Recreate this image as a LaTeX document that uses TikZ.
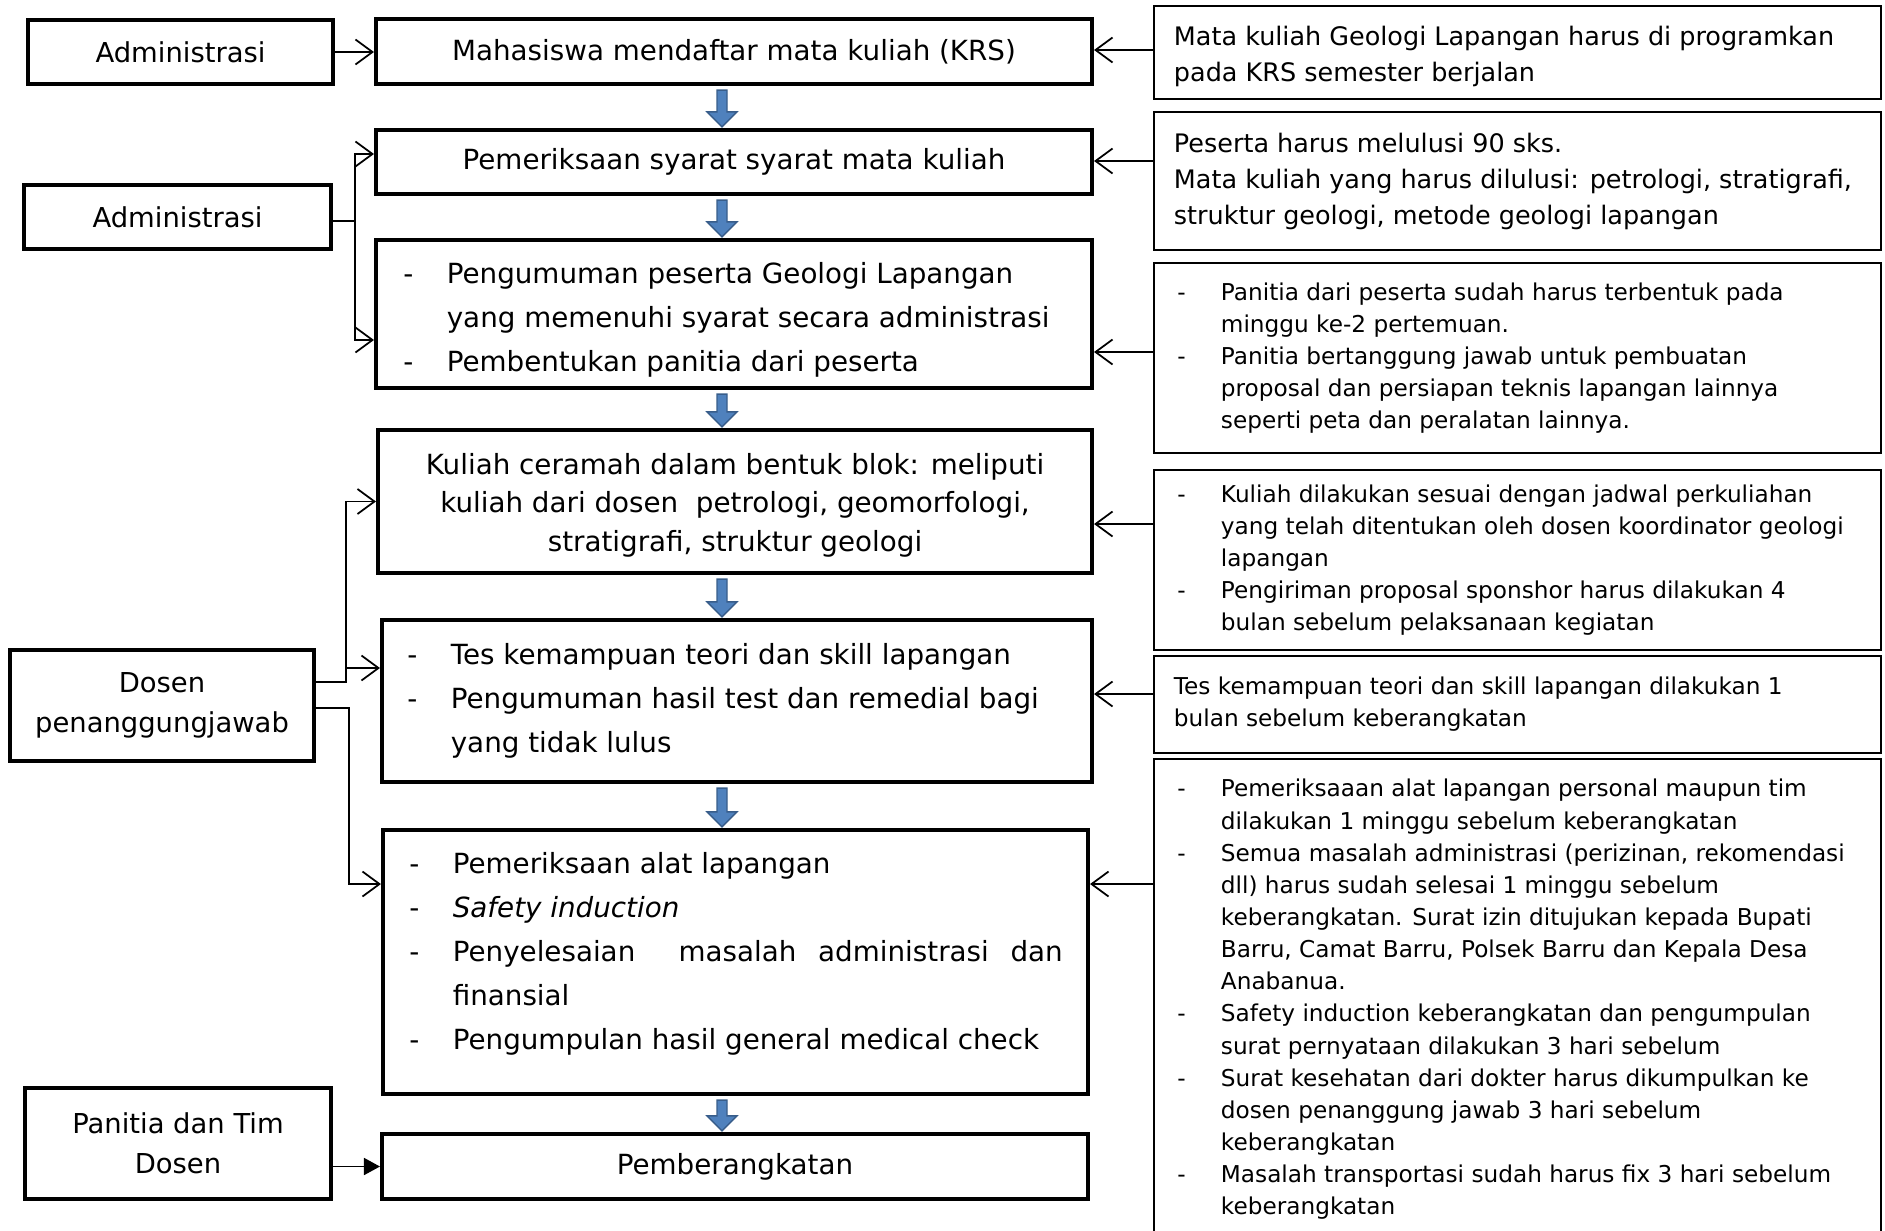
\documentclass[tikz,border=0pt]{standalone}
\usepackage{fontspec}
\setmainfont{DejaVu Sans}
\usetikzlibrary{positioning,arrows.meta,calc}
\definecolor{FlowBlue}{HTML}{4F81BD}
\definecolor{FlowEdge}{HTML}{385D8A}
% dash and hanging indent for the lists
\newcommand\dsh{\makebox[0.87cm][l]{-}}
\newcommand\ind{\hspace*{0.87cm}}
% blue block arrow between two steps
\newcommand\flowarrow[2]{%
  \filldraw[flow] ($(#1.south -| fx)+(-5,4)$) -- ($(#2.north -| fx)+(-5,-16)$)
    -- ($(#2.north -| fx)+(-15,-16)$) -- ($(#2.north -| fx)+(0,-1)$)
    -- ($(#2.north -| fx)+(15,-16)$) -- ($(#2.north -| fx)+(5,-16)$)
    -- ($(#1.south -| fx)+(5,4)$) -- cycle;}

\begin{document}
\begin{tikzpicture}[x=0.02cm, y=-0.02cm,
    mainbox/.style={draw, line width=2.4pt, inner sep=0pt, align=center,
                    font=\fontsize{15.8}{22}\selectfont},
    sidebox/.style={draw, line width=1.8pt, inner sep=0pt, align=center,
                    font=\fontsize{15.6}{22.5}\selectfont},
    notebox/.style={draw, line width=1.1pt, inner sep=0pt,
                    minimum width=14.54cm},
    listtext/.style={align=left, inner sep=0pt,
                     font=\fontsize{15.8}{25}\selectfont},
    notebig/.style={align=left, inner sep=0pt,
                    font=\fontsize{14.5}{20.5}\selectfont},
    notesmall/.style={align=left, inner sep=0pt,
                      font=\fontsize{13.2}{18.3}\selectfont},
    ar/.style={-{Straight Barb[length=3.4mm,width=5mm]}, line width=1pt},
    arf/.style={-{Triangle[length=3.2mm,width=3.4mm]}, line width=1pt},
    flow/.style={fill=FlowBlue, draw=FlowEdge, line width=0.8pt},
  ]
  \useasboundingbox (0,0) rectangle (1885,1230);
  \coordinate (fx) at (722,0);

  % main steps
  \node[mainbox, minimum width=14.32cm, minimum height=1.3cm] (krs) at (734,51.5)
    {Mahasiswa mendaftar mata kuliah (KRS)};
  \node[mainbox, minimum width=14.32cm, minimum height=1.28cm] (syarat) at (734,162)
    {Pemeriksaan syarat syarat mata kuliah};
  \node[mainbox, minimum width=14.32cm, minimum height=2.96cm] (umum) at (734,314) {};
  \node[listtext, right=0.58cm of umum.west, yshift=-0.12cm] (umumtxt)
    {\dsh Pengumuman peserta Geologi Lapangan\\
     \ind yang memenuhi syarat secara administrasi\\
     \dsh Pembentukan panitia dari peserta};
  \node[mainbox, minimum width=14.28cm, minimum height=2.86cm] (kuliah) at (735,501.5) {};
  \node[mainbox, draw=none, yshift=-0.07cm] (kuliahtxt) at (kuliah)
    {Kuliah ceramah dalam bentuk blok: meliputi\\
     kuliah dari dosen\ \ petrologi, geomorfologi,\\
     stratigrafi, struktur geologi};
  \node[mainbox, minimum width=14.2cm, minimum height=3.24cm] (tes) at (737,701) {};
  \node[listtext, right=0.54cm of tes.west] (testxt)
    {\dsh Tes kemampuan teori dan skill lapangan\\
     \dsh Pengumuman hasil test dan remedial bagi\\
     \ind yang tidak lulus};
  \node[mainbox, minimum width=14.1cm, minimum height=5.28cm] (alat) at (735.5,962) {};
  \node[listtext, right=0.56cm of alat.west, yshift=0.17cm] (alattxt)
    {\dsh Pemeriksaan alat lapangan\\
     \dsh \textit{Safety induction}\\
     \dsh \makebox[12.2cm][s]{Penyelesaian\ \ masalah administrasi dan}\\
     \ind finansial\\
     \dsh Pengumpulan hasil general medical check};
  \node[mainbox, minimum width=14.12cm, minimum height=1.3cm] (berangkat) at (735,1166.5)
    {Pemberangkatan};

  \foreach \a/\b in {krs/syarat, syarat/umum, umum/kuliah, kuliah/tes, tes/alat, alat/berangkat}
    {\flowarrow{\a}{\b}}

  % who is responsible
  \node[sidebox, minimum width=6.1cm, minimum height=1.28cm] (adm1) at (180.5,52) {Administrasi};
  \node[sidebox, minimum width=6.14cm, minimum height=1.28cm] (adm2) at (177.5,217) {Administrasi};
  \node[sidebox, minimum width=6.08cm, minimum height=2.22cm] (dosen) at (162,705.5)
    {Dosen\\penanggungjawab};
  \node[sidebox, minimum width=6.12cm, minimum height=2.22cm] (panitia) at (178,1143.5)
    {Panitia dan Tim\\Dosen};

  \draw[ar] (adm1.east) -- (adm1.east -| krs.west);
  \coordinate (jA) at (355,221);
  \draw[ar] (adm2.east |- jA) -- (jA) |- ([yshift=0.16cm]syarat.west);
  \draw[ar] (jA) |- ([yshift=-0.52cm]umum.west);
  \coordinate (jB) at (346,682);
  \coordinate (jC) at (349,708);
  \draw[ar] (dosen.east |- jB) -- (jB) |- (kuliah.west);
  \draw[ar] (jB) |- ([yshift=0.66cm]tes.west);
  \draw[ar] (dosen.east |- jC) -- (jC) |- ([yshift=1.56cm]alat.west);
  \draw[arf] (berangkat.west -| panitia.east) -- (berangkat.west);

  % notes
  \node[notebox, minimum height=1.86cm] (r1) at (1517.5,52.5) {};
  \node[notebig, right=0.41cm of r1.west, yshift=-0.07cm] (r1txt)
    {Mata kuliah Geologi Lapangan harus di programkan\\
     pada KRS semester berjalan};
  \node[notebox, minimum height=2.76cm] (r2) at (1517.5,181) {};
  \node[notebig, right=0.41cm of r2.west] (r2txt)
    {Peserta harus melulusi 90 sks.\\
     Mata kuliah yang harus dilulusi: petrologi, stratigrafi,\\
     struktur geologi, metode geologi lapangan};
  \node[notebox, minimum height=3.8cm] (r3) at (1517.5,358) {};
  \node[notesmall, right=0.48cm of r3.west] (r3txt)
    {\dsh Panitia dari peserta sudah harus terbentuk pada\\
     \ind minggu ke-2 pertemuan.\\
     \dsh Panitia bertanggung jawab untuk pembuatan\\
     \ind proposal dan persiapan teknis lapangan lainnya\\
     \ind seperti peta dan peralatan lainnya.};
  \node[notebox, minimum height=3.6cm] (r4) at (1517.5,560) {};
  \node[notesmall, right=0.48cm of r4.west] (r4txt)
    {\dsh Kuliah dilakukan sesuai dengan jadwal perkuliahan\\
     \ind yang telah ditentukan oleh dosen koordinator geologi\\
     \ind lapangan\\
     \dsh Pengiriman proposal sponshor harus dilakukan 4\\
     \ind bulan sebelum pelaksanaan kegiatan};
  \node[notebox, minimum height=1.94cm] (r5) at (1517.5,704.5) {};
  \node[notesmall, right=0.41cm of r5.west] (r5txt)
    {Tes kemampuan teori dan skill lapangan dilakukan 1\\
     bulan sebelum keberangkatan};
  \node[notebox, minimum height=9.62cm] (r6) at (1517.5,999.5) {};
  \node[notesmall, right=0.48cm of r6.west] (r6txt)
    {\dsh Pemeriksaaan alat lapangan personal maupun tim\\
     \ind dilakukan 1 minggu sebelum keberangkatan\\
     \dsh Semua masalah administrasi (perizinan, rekomendasi\\
     \ind dll) harus sudah selesai 1 minggu sebelum\\
     \ind keberangkatan. Surat izin ditujukan kepada Bupati\\
     \ind Barru, Camat Barru, Polsek Barru dan Kepala Desa\\
     \ind Anabanua.\\
     \dsh Safety induction keberangkatan dan pengumpulan\\
     \ind surat pernyataan dilakukan 3 hari sebelum\\
     \dsh Surat kesehatan dari dokter harus dikumpulkan ke\\
     \ind dosen penanggung jawab 3 hari sebelum\\
     \ind keberangkatan\\
     \dsh Masalah transportasi sudah harus fix 3 hari sebelum\\
     \ind keberangkatan};

  \foreach \r/\m/\s in {r1/krs/0.05, r2/syarat/0.4, r3/umum/0.12,
                        r4/kuliah/0.72, r5/tes/0.21, r6/alat/2.31}
    {\draw[ar] ([yshift=\s cm]\r.west) coordinate (t) -- (t -| \m.east);}
\end{tikzpicture}
\end{document}
